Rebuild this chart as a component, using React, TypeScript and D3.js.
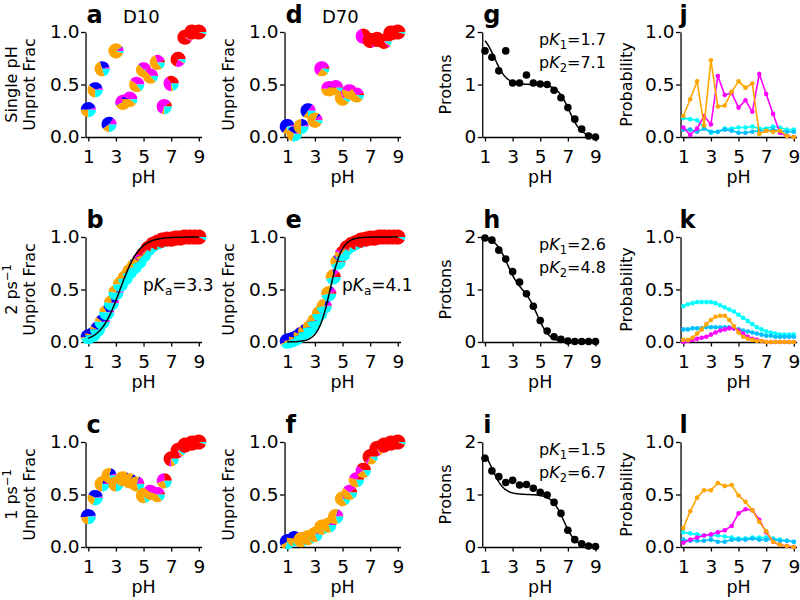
import React, { useEffect, useRef } from 'react';
import * as d3 from 'd3';

// ---------- data ----------
const pHHalf = [1, 1.5, 2, 2.5, 3, 3.5, 4, 4.5, 5, 5.5, 6, 6.5, 7, 7.5, 8, 8.5, 9];
const pHThird = [1, 1.33, 1.67, 2, 2.33, 2.67, 3, 3.33, 3.67, 4, 4.33, 4.67, 5, 5.33, 5.67, 6, 6.33, 6.67, 7, 7.33, 7.67, 8, 8.33, 8.67, 9];
const xTicks = [1, 3, 5, 7, 9];

// pie slice order: red, magenta, blue, orange, cyan
const pieColors = ['#ff0000', '#ff00ff', '#0000ff', '#ffa500', '#00ffff'];

const aUnprot = [0.26, 0.45, 0.65, 0.12, 0.82, 0.33, 0.36, 0.5, 0.64, 0.58, 0.71, 0.29, 0.51, 0.74, 0.95, 1.0, 1.0];
const aPies = [
  [0, 0.05, 0.45, 0.25, 0.25], [0, 0.05, 0.35, 0.35, 0.25], [0, 0.05, 0.25, 0.5, 0.2], [0, 0.15, 0.45, 0.15, 0.25],
  [0, 0.08, 0.02, 0.85, 0.05], [0, 0.55, 0.02, 0.35, 0.08], [0, 0.45, 0.05, 0.4, 0.1], [0, 0.4, 0, 0.45, 0.15],
  [0.05, 0.3, 0.02, 0.55, 0.08], [0.02, 0.35, 0, 0.5, 0.13], [0.05, 0.25, 0, 0.55, 0.15], [0.1, 0.6, 0, 0.05, 0.25],
  [0.35, 0.4, 0, 0.05, 0.2], [0.7, 0.2, 0, 0.02, 0.08], [0.9, 0.03, 0, 0.02, 0.05], [0.95, 0.01, 0, 0.01, 0.03],
  [0.95, 0, 0, 0.01, 0.04],
];
const dUnprot = [0.1, 0.03, 0.1, 0.25, 0.16, 0.65, 0.46, 0.47, 0.37, 0.43, 0.4, 0.96, 0.92, 0.93, 0.91, 0.99, 1.0];
const dPies = [
  [0, 0.05, 0.6, 0.1, 0.25], [0, 0.05, 0.35, 0.3, 0.3], [0, 0.05, 0.2, 0.5, 0.25], [0, 0.15, 0.5, 0.1, 0.25],
  [0.02, 0.1, 0.05, 0.75, 0.08], [0.05, 0.6, 0, 0.25, 0.1], [0.05, 0.45, 0, 0.4, 0.1], [0.02, 0.45, 0.02, 0.4, 0.11],
  [0.05, 0.25, 0, 0.6, 0.1], [0.05, 0.4, 0, 0.45, 0.1], [0.05, 0.3, 0, 0.55, 0.1], [0.3, 0.6, 0, 0.02, 0.08],
  [0.8, 0.1, 0, 0.02, 0.08], [0.85, 0.05, 0, 0.02, 0.08], [0.85, 0.05, 0, 0.02, 0.08], [0.9, 0.02, 0, 0.02, 0.06],
  [0.95, 0, 0, 0.01, 0.04],
];
const bUnprot = [0.05, 0.07, 0.12, 0.19, 0.28, 0.37, 0.47, 0.55, 0.61, 0.67, 0.72, 0.77, 0.83, 0.89, 0.93, 0.95, 0.97, 0.98, 0.98, 0.99, 0.99, 1.0, 1.0, 1.0, 1.0];
const bPies = [
  [0, 0.02, 0.5, 0.03, 0.45], [0, 0.02, 0.45, 0.05, 0.48], [0, 0.03, 0.4, 0.07, 0.5], [0, 0.04, 0.35, 0.1, 0.51],
  [0, 0.05, 0.28, 0.15, 0.52], [0, 0.06, 0.2, 0.22, 0.52], [0, 0.07, 0.14, 0.27, 0.52], [0.03, 0.08, 0.1, 0.3, 0.49],
  [0.08, 0.08, 0.07, 0.3, 0.47], [0.15, 0.07, 0.05, 0.28, 0.45], [0.25, 0.07, 0.03, 0.22, 0.43], [0.35, 0.05, 0.02, 0.15, 0.43],
  [0.5, 0.04, 0.01, 0.08, 0.37], [0.6, 0.02, 0, 0.04, 0.34], [0.68, 0.01, 0, 0.02, 0.29], [0.75, 0, 0, 0.01, 0.24],
  [0.8, 0, 0, 0, 0.2], [0.84, 0, 0, 0, 0.16], [0.87, 0, 0, 0, 0.13], [0.89, 0, 0, 0, 0.11], [0.9, 0, 0, 0, 0.1],
  [0.91, 0, 0, 0, 0.09], [0.92, 0, 0, 0, 0.08], [0.92, 0, 0, 0, 0.08], [0.93, 0, 0, 0, 0.07],
];
const eUnprot = [0.01, 0.02, 0.04, 0.07, 0.1, 0.14, 0.2, 0.27, 0.34, 0.46, 0.62, 0.76, 0.84, 0.9, 0.93, 0.95, 0.97, 0.98, 0.99, 0.99, 1.0, 1.0, 1.0, 1.0, 1.0];
const ePies = [
  [0, 0.02, 0.55, 0.03, 0.4], [0, 0.02, 0.5, 0.05, 0.43], [0, 0.03, 0.45, 0.07, 0.45], [0, 0.04, 0.4, 0.1, 0.46],
  [0, 0.05, 0.33, 0.15, 0.47], [0, 0.06, 0.26, 0.2, 0.48], [0, 0.07, 0.2, 0.25, 0.48], [0, 0.08, 0.14, 0.3, 0.48],
  [0.02, 0.09, 0.1, 0.32, 0.47], [0.05, 0.1, 0.07, 0.32, 0.46], [0.12, 0.1, 0.05, 0.28, 0.45], [0.25, 0.08, 0.03, 0.2, 0.44],
  [0.4, 0.05, 0.01, 0.12, 0.42], [0.55, 0.03, 0, 0.06, 0.36], [0.65, 0.02, 0, 0.03, 0.3], [0.72, 0.01, 0, 0.01, 0.26],
  [0.8, 0, 0, 0, 0.2], [0.84, 0, 0, 0, 0.16], [0.87, 0, 0, 0, 0.13], [0.89, 0, 0, 0, 0.11], [0.9, 0, 0, 0, 0.1],
  [0.91, 0, 0, 0, 0.09], [0.92, 0, 0, 0, 0.08], [0.92, 0, 0, 0, 0.08], [0.93, 0, 0, 0, 0.07],
];
const cUnprot = [0.29, 0.47, 0.6, 0.68, 0.6, 0.65, 0.63, 0.6, 0.49, 0.52, 0.5, 0.63, 0.84, 0.92, 0.97, 0.99, 1.0];
const cPies = [
  [0, 0.02, 0.5, 0.23, 0.25], [0, 0.03, 0.4, 0.27, 0.3], [0, 0.05, 0.15, 0.55, 0.25], [0, 0.05, 0.15, 0.65, 0.15],
  [0, 0.05, 0.05, 0.65, 0.25], [0, 0.08, 0.07, 0.7, 0.15], [0, 0.07, 0.1, 0.6, 0.23], [0.02, 0.15, 0.03, 0.6, 0.2],
  [0.03, 0.15, 0.02, 0.6, 0.2], [0.05, 0.35, 0, 0.45, 0.15], [0.05, 0.4, 0, 0.4, 0.15], [0.25, 0.3, 0, 0.25, 0.2],
  [0.7, 0.05, 0, 0.1, 0.15], [0.8, 0.03, 0, 0.05, 0.12], [0.88, 0.02, 0, 0.02, 0.08], [0.92, 0.01, 0, 0.01, 0.06],
  [0.94, 0, 0, 0.01, 0.05],
];
const fUnprot = [0.05, 0.08, 0.07, 0.09, 0.12, 0.19, 0.21, 0.29, 0.46, 0.52, 0.64, 0.73, 0.86, 0.94, 0.97, 0.99, 1.0];
const fPies = [
  [0, 0.03, 0.55, 0.12, 0.3], [0, 0.03, 0.45, 0.25, 0.27], [0, 0.03, 0.2, 0.6, 0.17], [0, 0.03, 0.1, 0.72, 0.15],
  [0, 0.05, 0.05, 0.72, 0.18], [0, 0.05, 0.05, 0.72, 0.18], [0, 0.08, 0.05, 0.67, 0.2], [0.03, 0.15, 0.02, 0.6, 0.2],
  [0.05, 0.2, 0.02, 0.58, 0.15], [0.1, 0.3, 0, 0.45, 0.15], [0.15, 0.3, 0, 0.35, 0.2], [0.4, 0.2, 0, 0.25, 0.15],
  [0.65, 0.05, 0, 0.2, 0.1], [0.8, 0.03, 0, 0.07, 0.1], [0.88, 0.02, 0, 0.03, 0.07], [0.92, 0.01, 0, 0.02, 0.05],
  [0.94, 0, 0, 0.01, 0.05],
];
const pKaFit = [3.3, 4.1];
const hillFit = [0.62, 1.0];

const gProtons = [1.64, 1.52, 1.26, 1.64, 1.03, 1.03, 1.18, 1.03, 1.01, 1.0, 0.89, 0.75, 0.56, 0.34, 0.15, 0.02, 0.0];
const hProtons = [1.98, 1.94, 1.75, 1.58, 1.34, 1.14, 0.92, 0.68, 0.41, 0.21, 0.1, 0.05, 0.02, 0.01, 0.01, 0.01, 0.01];
const iProtons = [1.69, 1.45, 1.34, 1.23, 1.27, 1.18, 1.19, 1.12, 1.04, 0.99, 0.85, 0.64, 0.32, 0.14, 0.06, 0.02, 0.01];
const pK1s = [1.7, 2.6, 1.5];
const pK2s = [7.1, 4.8, 6.7];

const jOrange = [0.2, 0.36, 0.53, 0.11, 0.73, 0.29, 0.3, 0.43, 0.53, 0.47, 0.51, 0.03, 0.06, 0.05, 0.06, 0.01, 0.0];
const jMagenta = [0.09, 0.02, 0.08, 0.2, 0.12, 0.58, 0.4, 0.42, 0.28, 0.35, 0.24, 0.6, 0.41, 0.22, 0.04, 0.01, 0.0];
const jCyan = [0.18, 0.17, 0.16, 0.09, 0.04, 0.05, 0.08, 0.08, 0.09, 0.09, 0.1, 0.08, 0.08, 0.1, 0.09, 0.07, 0.07];
const jSky = [0.07, 0.07, 0.05, 0.08, 0.05, 0.05, 0.07, 0.06, 0.04, 0.04, 0.05, 0.06, 0.06, 0.07, 0.06, 0.05, 0.05];

const kCyan = [0.34, 0.36, 0.37, 0.38, 0.38, 0.38, 0.38, 0.37, 0.35, 0.33, 0.31, 0.29, 0.26, 0.23, 0.2, 0.17, 0.14, 0.12, 0.1, 0.09, 0.08, 0.07, 0.07, 0.07, 0.07];
const kSky = [0.12, 0.12, 0.13, 0.13, 0.13, 0.14, 0.14, 0.14, 0.14, 0.14, 0.14, 0.13, 0.12, 0.11, 0.1, 0.09, 0.08, 0.07, 0.06, 0.06, 0.05, 0.05, 0.05, 0.05, 0.05];
const kOrange = [0.02, 0.02, 0.04, 0.08, 0.12, 0.17, 0.21, 0.24, 0.25, 0.25, 0.21, 0.15, 0.09, 0.05, 0.03, 0.02, 0.01, 0.01, 0, 0, 0, 0, 0, 0, 0];
const kMagenta = [0, 0.01, 0.02, 0.03, 0.04, 0.05, 0.07, 0.09, 0.11, 0.12, 0.13, 0.13, 0.11, 0.08, 0.05, 0.03, 0.02, 0.01, 0, 0, 0, 0, 0, 0, 0];

const lOrange = [0.18, 0.34, 0.47, 0.54, 0.54, 0.61, 0.58, 0.59, 0.49, 0.43, 0.35, 0.24, 0.15, 0.05, 0.02, 0.01, 0.0];
const lMagenta = [0.04, 0.07, 0.09, 0.11, 0.12, 0.14, 0.16, 0.2, 0.32, 0.36, 0.35, 0.26, 0.14, 0.05, 0.02, 0.01, 0.0];
const lCyan = [0.14, 0.13, 0.12, 0.11, 0.11, 0.11, 0.1, 0.09, 0.08, 0.08, 0.09, 0.09, 0.09, 0.08, 0.07, 0.06, 0.05];
const lSky = [0.07, 0.06, 0.06, 0.06, 0.07, 0.05, 0.05, 0.07, 0.07, 0.07, 0.08, 0.07, 0.07, 0.07, 0.06, 0.06, 0.05];

// ---------- layout ----------
const FONT = "'DejaVu Sans', sans-serif";
const FS = 16;
const TFS = 18.5;
const colX1 = [88.3, 287.3, 485, 683.3];
const unitW = 110.5 / 8;
const rowTop = [32, 237, 442];
const plotH = 105;

type Sel = d3.Selection<SVGGElement, unknown, null, undefined>;

function makeX(col: number) {
  return d3.scaleLinear().domain([0.8, 9.2]).range([colX1[col] - 0.2 * unitW, colX1[col] + 8.2 * unitW]);
}
function makeY(row: number, max: number) {
  return d3.scaleLinear().domain([0, max]).range([rowTop[row] + plotH, rowTop[row]]);
}

function drawAxes(g: Sel, x: d3.ScaleLinear<number, number>, y: d3.ScaleLinear<number, number>, yTicks: number[], fmt: (d: any) => string) {
  const ax = g.append('g').attr('transform', `translate(0,${y.range()[0]})`)
    .call(d3.axisBottom(x).tickValues(xTicks).tickSize(4.5).tickSizeOuter(0).tickPadding(8).tickFormat(d3.format('d') as any));
  const ay = g.append('g').attr('transform', `translate(${x.range()[0]},0)`)
    .call(d3.axisLeft(y).tickValues(yTicks).tickSize(4.5).tickSizeOuter(0).tickPadding(1.5).tickFormat(fmt as any));
  [ax, ay].forEach((a) => {
    a.attr('font-size', TFS).attr('font-family', FONT);
    a.selectAll('text').attr('fill', '#000');
    a.selectAll('path, line').attr('stroke', '#000').attr('stroke-width', 1.3);
  });
  g.append('text').attr('x', (x(1) + x(9)) / 2).attr('y', y.range()[0] + 46)
    .attr('text-anchor', 'middle').attr('font-size', 17.5).attr('font-family', FONT).text('pH');
}

function panelLetter(g: Sel, x: number, y: number, letter: string) {
  g.append('text').attr('x', x).attr('y', y).attr('font-size', 24).attr('font-weight', 'bold')
    .attr('font-family', FONT).text(letter);
}

function vLabel(g: Sel, bx: number, cy: number, build: (t: d3.Selection<SVGTextElement, unknown, null, undefined>) => void) {
  const t = g.append('text').attr('transform', `translate(${bx},${cy}) rotate(-90)`)
    .attr('text-anchor', 'middle').attr('font-size', FS).attr('font-family', FONT);
  build(t);
}

function pkText(g: Sel, x: number, y: number, sub: string, val: string) {
  const t = g.append('text').attr('x', x).attr('y', y).attr('font-size', FS).attr('font-family', FONT);
  t.append('tspan').text('p');
  t.append('tspan').attr('font-style', 'italic').text('K');
  t.append('tspan').attr('font-size', 11.5).attr('dy', 3.5).text(sub);
  t.append('tspan').attr('dy', -3.5).text('=' + val);
}

export default function App() {
  const ref = useRef<SVGSVGElement>(null);
  useEffect(() => {
    const svg = d3.select(ref.current);
    svg.selectAll('*').remove();
    svg.append('rect').attr('width', 800).attr('height', 600).attr('fill', '#fff');
    const root = svg.append('g') as unknown as Sel;

    const arc = d3.arc<any>().innerRadius(0).outerRadius(7.6);
    const fine = d3.range(1, 9.0001, 0.05);

    // ---------- pie panels ----------
    const piePanels = [
      { col: 0, row: 0, pH: pHHalf, v: aUnprot, pies: aPies, letter: 'a', title: 'D10', fit: -1 },
      { col: 1, row: 0, pH: pHHalf, v: dUnprot, pies: dPies, letter: 'd', title: 'D70', fit: -1 },
      { col: 0, row: 1, pH: pHThird, v: bUnprot, pies: bPies, letter: 'b', title: '', fit: 0 },
      { col: 1, row: 1, pH: pHThird, v: eUnprot, pies: ePies, letter: 'e', title: '', fit: 1 },
      { col: 0, row: 2, pH: pHHalf, v: cUnprot, pies: cPies, letter: 'c', title: '', fit: -1 },
      { col: 1, row: 2, pH: pHHalf, v: fUnprot, pies: fPies, letter: 'f', title: '', fit: -1 },
    ];
    piePanels.forEach((p) => {
      const g = root.append('g') as unknown as Sel;
      const x = makeX(p.col);
      const y = makeY(p.row, 1);
      drawAxes(g, x, y, [0, 0.5, 1], d3.format('.1f'));
      p.pH.forEach((ph, i) => {
        const fr = p.pies[i];
        const tot = d3.sum(fr);
        const cx = x(ph), cy = y(p.v[i]);
        let acc = 0;
        const pg = g.append('g').attr('transform', `translate(${cx},${cy})`);
        fr.forEach((f, k) => {
          if (f <= 0) return;
          const a0 = (acc / tot) * 2 * Math.PI;
          acc += f;
          const a1 = (acc / tot) * 2 * Math.PI;
          pg.append('path').attr('d', arc({ startAngle: Math.PI / 2 - a1, endAngle: Math.PI / 2 - a0 }) as string)
            .attr('fill', pieColors[k]);
        });
      });
      if (p.fit >= 0) {
        const pka = pKaFit[p.fit], n = hillFit[p.fit];
        const line = d3.line<number>().x((d) => x(d)).y((d) => y(1 / (1 + Math.pow(10, n * (pka - d)))));
        g.append('path').attr('d', line(fine) as string).attr('fill', 'none').attr('stroke', '#000').attr('stroke-width', 1.5);
        const t = g.append('text').attr('x', p.col === 0 ? 143 : 342).attr('y', rowTop[p.row] + 54)
          .attr('font-size', 17).attr('font-family', FONT);
        t.append('tspan').text('p');
        t.append('tspan').attr('font-style', 'italic').text('K');
        t.append('tspan').attr('font-size', 12).attr('dy', 3.5).text('a');
        t.append('tspan').attr('dy', -3.5).text('=' + pka.toFixed(1));
      }
      panelLetter(g, x.range()[0] + 1, rowTop[p.row] - 9, p.letter);
      if (p.title) {
        g.append('text').attr('x', p.col === 0 ? 123 : 322).attr('y', rowTop[p.row] - 9)
          .attr('font-size', 18).attr('font-family', FONT).text(p.title);
      }
    });

    const cyRow = (r: number) => rowTop[r] + plotH / 2;
    [0, 1, 2].forEach((r) => {
      vLabel(root, 35, cyRow(r), (t) => t.text('Unprot Frac'));
      vLabel(root, 234, cyRow(r), (t) => t.text('Unprot Frac'));
    });
    vLabel(root, 17, cyRow(0), (t) => t.text('Single pH'));
    vLabel(root, 17, cyRow(1), (t) => {
      t.append('tspan').text('2 ps');
      t.append('tspan').attr('font-size', 11.5).attr('dy', -6).text('\u22121');
    });
    vLabel(root, 17, cyRow(2), (t) => {
      t.append('tspan').text('1 ps');
      t.append('tspan').attr('font-size', 11.5).attr('dy', -6).text('\u22121');
    });

    // ---------- proton panels ----------
    const protData = [gProtons, hProtons, iProtons];
    ['g', 'h', 'i'].forEach((letter, r) => {
      const g = root.append('g') as unknown as Sel;
      const x = makeX(2);
      const y = makeY(r, 2);
      drawAxes(g, x, y, [0, 1, 2], d3.format('d'));
      const k1 = pK1s[r], k2 = pK2s[r];
      const prot = (ph: number) => {
        const a = Math.pow(10, k1 + k2 - 2 * ph);
        const b = Math.pow(10, k2 - ph);
        return (2 * a + b) / (1 + a + b);
      };
      const line = d3.line<number>().x((d) => x(d)).y((d) => y(prot(d)));
      g.append('path').attr('d', line(fine) as string).attr('fill', 'none').attr('stroke', '#000').attr('stroke-width', 1.5);
      g.selectAll('circle.pt').data(protData[r]).enter().append('circle')
        .attr('cx', (_d, i) => x(pHHalf[i])).attr('cy', (d) => y(d)).attr('r', 3.8).attr('fill', '#000');
      pkText(g, 539, rowTop[r] + 13, '1', k1.toFixed(1));
      pkText(g, 539, rowTop[r] + 36, '2', k2.toFixed(1));
      panelLetter(g, x.range()[0] + 1, rowTop[r] - 9, letter);
      vLabel(root, 451, cyRow(r), (t) => t.text('Protons'));
    });

    // ---------- probability panels ----------
    const probPanels = [
      { pH: pHHalf, series: [[jCyan, '#00ffff'], [jSky, '#00bfff'], [jMagenta, '#ff00ff'], [jOrange, '#ffa500']], letter: 'j' },
      { pH: pHThird, series: [[kCyan, '#00ffff'], [kSky, '#00bfff'], [kMagenta, '#ff00ff'], [kOrange, '#ffa500']], letter: 'k' },
      { pH: pHHalf, series: [[lCyan, '#00ffff'], [lSky, '#00bfff'], [lMagenta, '#ff00ff'], [lOrange, '#ffa500']], letter: 'l' },
    ];
    probPanels.forEach((p, r) => {
      const g = root.append('g') as unknown as Sel;
      const x = makeX(3);
      const y = makeY(r, 1);
      drawAxes(g, x, y, [0, 0.5, 1], d3.format('.1f'));
      p.series.forEach(([vals, color]) => {
        const v = vals as number[];
        const line = d3.line<number>().x((_d, i) => x(p.pH[i])).y((d) => y(d));
        g.append('path').attr('d', line(v) as string).attr('fill', 'none').attr('stroke', color as string).attr('stroke-width', 1.6);
        g.selectAll(null).data(v).enter().append('circle')
          .attr('cx', (_d, i) => x(p.pH[i])).attr('cy', (d) => y(d)).attr('r', 2.3).attr('fill', color as string);
      });
      panelLetter(g, x.range()[0] - 1, rowTop[r] - 9, p.letter);
      vLabel(root, 632, cyRow(r), (t) => t.text('Probability'));
    });
  }, []);
  return <svg ref={ref} width={800} height={600} style={{ position: 'absolute', left: 0, top: 0 }} />;
}
